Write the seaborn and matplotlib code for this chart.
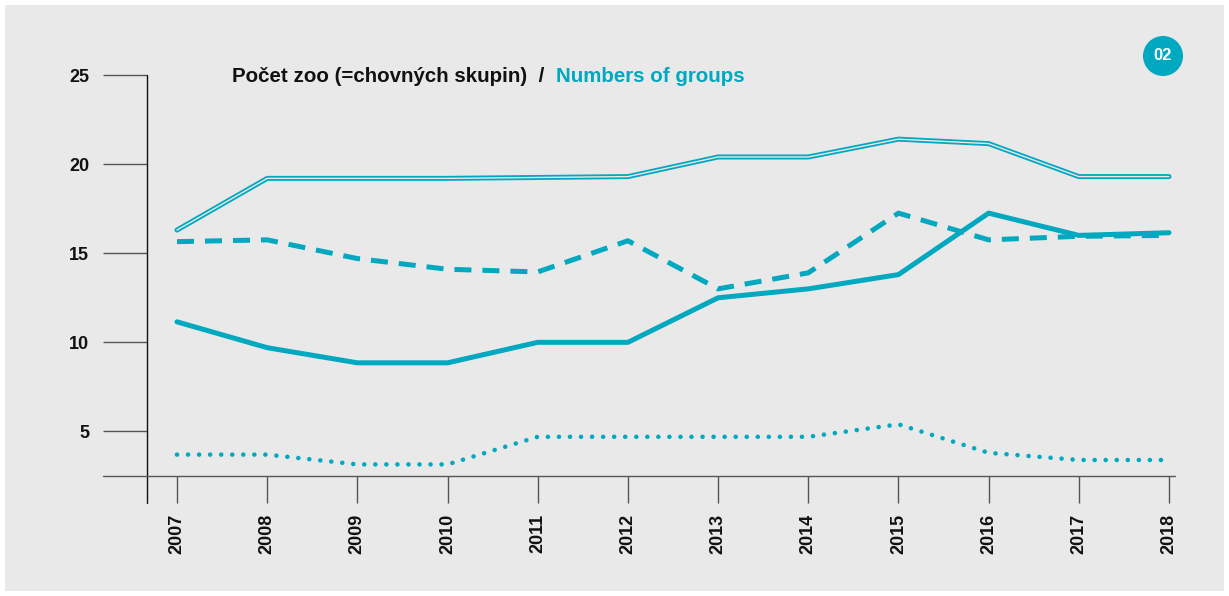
import numpy as np
import pandas as pd
import seaborn as sns
import matplotlib.pyplot as plt
from matplotlib.patches import Rectangle, Circle

# data
years = list(range(2007, 2019))
double_vals = [16.3, 19.2, 19.2, 19.2, 19.25, 19.3, 20.4, 20.4, 21.4, 21.15, 19.3, 19.3]
dashed_vals = [15.65, 15.75, 14.7, 14.1, 13.95, 15.7, 13.0, 13.9, 17.25, 15.75, 15.95, 16.0]
solid_vals = [11.15, 9.7, 8.85, 8.85, 10.0, 10.0, 12.5, 13.0, 13.8, 17.25, 16.0, 16.15]
dotted_vals = [3.7, 3.7, 3.15, 3.15, 4.7, 4.7, 4.7, 4.7, 5.4, 3.8, 3.4, 3.4]
y_ticks = [5, 10, 15, 20, 25]

df = pd.DataFrame({"rok": years, "double": double_vals, "dashed": dashed_vals,
                   "solid": solid_vals, "dotted": dotted_vals})

TEAL = "#00a8c0"
BG = "#e9e9e9"

sns.set_theme(style="white")
plt.rcParams['font.family'] = ['Liberation Sans', 'DejaVu Sans']

W, H = 1229, 596
fig = plt.figure(figsize=(W / 100, H / 100), dpi=100, facecolor="white")
fig.patches.append(Rectangle((5 / W, 5 / H), 1219 / W, 586 / H, transform=fig.transFigure,
                             facecolor=BG, edgecolor="none", zorder=-10))

# axes from x=147 to 1175 px, y=75 to 476 px
ax = fig.add_axes([147 / W, 1 - 476 / H, 1028 / W, 401 / H])
ax.set_facecolor("none")

# double line: teal thick line with thin background line on top
sns.lineplot(data=df, x="rok", y="double", ax=ax, color=TEAL, linewidth=3.6, zorder=3)
sns.lineplot(data=df, x="rok", y="double", ax=ax, color=BG, linewidth=1.0, zorder=4)
sns.lineplot(data=df, x="rok", y="dashed", ax=ax, color=TEAL, linewidth=3.6,
             linestyle=(0, (3.4, 2.2)), zorder=3)
sns.lineplot(data=df, x="rok", y="solid", ax=ax, color=TEAL, linewidth=3.6, zorder=3)
sns.lineplot(data=df, x="rok", y="dotted", ax=ax, color=TEAL, linewidth=3.3,
             linestyle=(0, (0.01, 2.4)), zorder=3)
ax.lines[-1].set_dash_capstyle("round")

ax.set_xlim(2007 - 30 / 90.18, 2018 + 6 / 90.18)
ax.set_ylim(2.5, 25)
ax.set_xticks(years)
ax.set_yticks(y_ticks)
ax.set_xticklabels([str(y) for y in years], rotation=90, fontweight="bold", fontsize=13)
ax.set_yticklabels([str(y) for y in y_ticks], fontweight="bold", fontsize=13)
ax.set_xlabel("")
ax.set_ylabel("")

for s in ax.spines.values():
    s.set_visible(False)

ax.tick_params(axis="y", which="major", length=31.7, width=1.0, color="#555555",
               pad=10, left=True, labelcolor="#111111")
ax.tick_params(axis="x", which="major", length=19.4, width=1.0, color="#555555",
               pad=8, bottom=True, labelcolor="#111111", direction="out")

# vertical axis line extended below the baseline, baseline extended left
ax.plot([0, 0], [1, -27 / 401], transform=ax.transAxes, color="#111111", lw=1.0, clip_on=False)
ax.plot([-44 / 1028, 1], [0, 0], transform=ax.transAxes, color="#555555", lw=1.0, clip_on=False)

# title in two colours
t1 = fig.text(232 / W, 1 - 77 / H, "Počet zoo (=chovných skupin)  /  ", fontsize=14.8,
              fontweight="bold", color="#111111", va="center", ha="left")
fig.canvas.draw()
bb = t1.get_window_extent()
fig.text(bb.x1 / W, 1 - 77 / H, "Numbers of groups", fontsize=14.8, fontweight="bold",
         color=TEAL, va="center", ha="left")

# badge
badge = Circle((11.63, (H - 56) / 100), 0.2, transform=fig.dpi_scale_trans,
               facecolor=TEAL, edgecolor="none")
fig.patches.append(badge)
fig.text(1163 / W, 1 - 56 / H, "02", fontsize=12, fontweight="bold", color="white",
         ha="center", va="center")

fig.savefig("out.png", dpi=100, facecolor="white")
